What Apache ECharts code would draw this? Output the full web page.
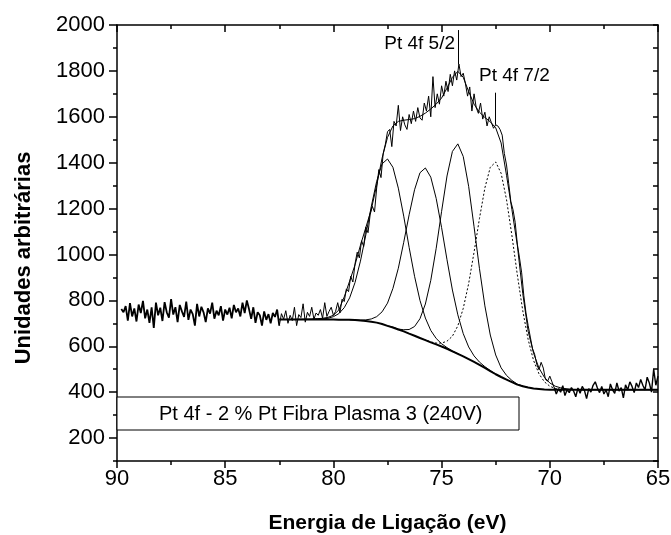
<!DOCTYPE html>
<html>
<head>
<meta charset="utf-8">
<script src="https://cdn.jsdelivr.net/npm/echarts@6/dist/echarts.min.js"></script>
<style>
  html, body { margin: 0; padding: 0; background: #fff; }
  #xpsChart { width: 671px; height: 535px; }
</style>
</head>
<body>
<div id="xpsChart"></div>
<script>
// raw spectrum, 89.8 eV down to 65.0 eV every 0.1 eV
const rawStart = 89.8, rawStep = 0.1;
const rawCounts = [
  762, 748, 775, 712, 788, 730, 765, 708, 782,
  745, 798, 722, 760, 702, 770, 680, 790, 735, 768,
  710, 792, 748, 725, 805, 738, 770, 705, 780, 752,
  728, 795, 715, 760, 740, 690, 785, 730, 772, 748,
  705, 765, 742, 790, 720, 755, 735, 775, 712, 760,
  738, 768, 722, 780, 748, 765, 730, 790, 745, 800,
  762, 720, 770, 702, 748, 735, 690, 752, 715, 740,
  700, 745, 728, 760, 690, 742, 718, 755, 700, 735,
  712, 770, 690, 738, 725, 785, 705, 748, 730, 770,
  718, 745, 735, 760, 722, 790, 730, 752, 770, 735,
  752, 790, 745, 805, 795, 850, 838, 905, 880, 960,
  1010, 985, 1060, 1035, 1120, 1095, 1175, 1210, 1185, 1290,
  1370, 1335, 1440, 1480, 1535, 1545, 1470, 1580, 1560, 1650,
  1540, 1600, 1565, 1545, 1610, 1570, 1625, 1580, 1640, 1595,
  1585, 1660, 1625, 1690, 1600, 1775, 1640, 1700, 1655, 1735,
  1690, 1755, 1710, 1785, 1735, 1800, 1760, 1830, 1775, 1790,
  1745, 1690, 1730, 1625, 1700, 1640, 1615, 1660, 1590, 1620,
  1560, 1600, 1575, 1550, 1565, 1560, 1545, 1520, 1440, 1390,
  1310, 1230, 1195, 1140, 1045, 985, 920, 820, 745, 690,
  640, 590, 565, 520, 498, 530, 505, 455, 448, 470,
  445, 420, 392, 415, 400, 428, 385, 410, 398, 420,
  405, 380, 418, 395, 425, 408, 372, 415, 400, 430,
  445, 418, 398, 425, 392, 410, 380, 436, 410, 395,
  440, 405, 420, 375, 432, 410, 445, 425, 398, 440,
  420, 455, 430, 410, 465, 440, 400, 500, 430, 470
];

// fit curves, 82.5 eV down to 65.0 eV every 0.25 eV
const fitStart = 82.5, fitStep = 0.25;
const background = [
  717, 717, 717, 717, 717, 717, 717, 717, 717, 717, 717,
  716, 716, 715, 714, 712, 710, 707, 703, 697, 689, 682, 673, 665, 655, 646,
  636, 627, 617, 608, 599, 589, 578, 567, 556, 544, 532, 519, 506, 492, 478,
  466, 455, 444, 433, 426, 420, 416, 414, 412, 411, 410,
  410, 410, 410, 410, 410, 410, 410, 410, 410, 410, 410, 410, 410, 410, 410, 410, 410, 410, 410
];
const envelope = [
  717, 717, 717, 717, 718, 718, 719, 720, 722, 726, 735,
  758, 815, 884, 955, 1040, 1118, 1196, 1302, 1420, 1510, 1560, 1580, 1585, 1588, 1592,
  1602, 1616, 1634, 1655, 1682, 1725, 1772, 1798, 1772, 1710, 1655, 1620, 1597, 1578, 1552,
  1486, 1345, 1195, 1040, 830, 665, 570, 505, 465, 440, 426,
  419, 415, 412, 411, 410,
  410, 410, 410, 410, 410, 410, 410, 410, 410, 410, 410, 410, 410, 410
];

// fitted components, each with its own first energy, 0.25 eV steps
const peak1Start = 81.0;
const peak1 = [717, 718, 719, 722, 729, 742, 768, 811, 878, 971, 1086, 1209, 1319, 1395, 1416,
  1380, 1289, 1167, 1031, 905, 800, 723, 669, 634, 611, 594, 580, 568, 556];
const peak2Start = 79.25;
const peak2 = [715, 715, 714, 715, 719, 729, 750, 788, 852, 940, 1053, 1173, 1282, 1356, 1377,
  1337, 1244, 1117, 977, 845, 737, 655, 597, 558, 531, 511, 494, 479, 466];
const peak3Start = 77.5;
const peak3 = [689, 683, 675, 672, 673, 686, 720, 784, 887, 1027, 1188, 1342, 1449, 1482,
  1427, 1297, 1121, 938, 776, 649, 562, 506, 473, 451, 435, 427, 420];
const peak4Start = 76.0;
const peak4 = [636, 628, 619, 614, 614, 622, 644, 689, 765, 873, 1010, 1157, 1290, 1380, 1403,
  1354, 1239, 1082, 911, 755, 629, 538, 480, 445, 426, 416, 412, 411, 410];

const yTickLabels = [200, 400, 600, 800, 1000, 1200, 1400, 1600, 1800, 2000];

const peakLabels = [
  { text: 'Pt 4f 5/2', energy: 74.23, from: 1830, to: 1978 },
  { text: 'Pt 4f 7/2', energy: 72.53, from: 1565, to: 1705 }
];
const sampleName = 'Pt 4f - 2 % Pt Fibra Plasma 3 (240V)';

function toPairs(start, step, values) {
  return values.map((v, i) => [+(start - i * step).toFixed(2), v]);
}

const rawPairs = toPairs(rawStart, rawStep, rawCounts);
const FONT = "'Liberation Sans', Arial, sans-serif";

function line(data, width, extra) {
  return Object.assign({
    type: 'line',
    data: data,
    showSymbol: false,
    symbol: 'none',
    silent: true,
    lineStyle: { color: '#000', width: width }
  }, extra || {});
}

let option = {
  animation: false,
  backgroundColor: '#fff',
  textStyle: { fontFamily: FONT, color: '#000' },
  grid: { left: 117, right: 13, top: 25, bottom: 74, outerBoundsMode: 'none', containLabel: false },
  xAxis: [
    {
      type: 'value',
      position: 'bottom',
      min: 65,
      max: 90,
      interval: 5,
      inverse: true,
      name: 'Energia de Ligação (eV)',
      nameLocation: 'middle',
      nameGap: 52,
      nameTextStyle: { fontSize: 21, fontWeight: 'bold', color: '#000', fontFamily: FONT },
      axisLine: { lineStyle: { color: '#000', width: 1.5 } },
      axisTick: { inside: false, length: 7, lineStyle: { color: '#000', width: 1.5 } },
      minorTick: { show: true, splitNumber: 2, length: 4, lineStyle: { color: '#000', width: 1.5 } },
      axisLabel: { fontSize: 22, color: '#000', margin: 7, fontFamily: FONT },
      splitLine: { show: false }
    },
    {
      type: 'value',
      position: 'top',
      min: 65,
      max: 90,
      interval: 5,
      inverse: true,
      axisLine: { lineStyle: { color: '#000', width: 1.5 } },
      axisTick: { inside: true, length: 7, lineStyle: { color: '#000', width: 1.5 } },
      minorTick: { show: true, splitNumber: 2, length: 4, lineStyle: { color: '#000', width: 1.5 } },
      axisLabel: { show: false },
      splitLine: { show: false }
    }
  ],
  yAxis: [
    {
      type: 'value',
      position: 'left',
      min: 100,
      max: 2000,
      interval: 100,
      axisLine: { show: true, lineStyle: { color: '#000', width: 1.5 } },
      axisTick: { show: true, inside: false, length: 8, customValues: yTickLabels,
        lineStyle: { color: '#000', width: 1.5 } },
      axisLabel: { fontSize: 22, color: '#000', margin: 12, customValues: yTickLabels,
        fontFamily: FONT, formatter: v => String(v) },
      splitLine: { show: false }
    },
    {
      type: 'value',
      position: 'left',
      min: 100,
      max: 2000,
      interval: 100,
      axisLine: { show: false },
      axisTick: { show: true, inside: false, length: 4, lineStyle: { color: '#000', width: 1.5 } },
      axisLabel: { show: false },
      splitLine: { show: false }
    },
    {
      type: 'value',
      position: 'right',
      min: 100,
      max: 2000,
      interval: 100,
      axisLine: { show: true, lineStyle: { color: '#000', width: 1.5 } },
      axisTick: { show: true, inside: true, length: 5, lineStyle: { color: '#000', width: 1.5 } },
      axisLabel: { show: false },
      splitLine: { show: false }
    }
  ],
  series: [
    line(rawPairs.slice(0, 74), 1.8),
    line(rawPairs.slice(73, 201), 1),
    line(rawPairs.slice(200), 1.4),
    line(toPairs(fitStart, fitStep, background), 2),
    line(toPairs(peak1Start, fitStep, peak1), 1),
    line(toPairs(peak2Start, fitStep, peak2), 1),
    line(toPairs(peak3Start, fitStep, peak3), 1),
    line(toPairs(peak4Start, fitStep, peak4), 1, {
      lineStyle: { color: '#000', width: 1, type: [2, 2] }
    }),
    line(toPairs(fitStart, fitStep, envelope), 1, {
      markLine: {
        silent: true,
        symbol: 'none',
        label: { show: false },
        lineStyle: { color: '#000', width: 1, type: 'solid' },
        data: peakLabels.map(p => [{ coord: [p.energy, p.from] }, { coord: [p.energy, p.to] }])
      }
    })
  ],
  graphic: [
    {
      type: 'text',
      x: 24,
      y: 258,
      rotation: Math.PI / 2,
      style: {
        text: 'Unidades arbitrárias',
        font: 'bold 22px ' + FONT,
        fill: '#000',
        align: 'center',
        verticalAlign: 'middle'
      }
    },
    {
      type: 'rect',
      shape: { x: 117, y: 397, width: 402, height: 33 },
      style: { fill: '#fff', stroke: '#000', lineWidth: 1 },
      z: 5
    },
    {
      type: 'text',
      x: 159,
      y: 414,
      z: 6,
      style: { text: sampleName, font: '20px ' + FONT, fill: '#000', verticalAlign: 'middle' }
    },
    {
      type: 'text',
      x: 455,
      y: 44,
      style: { text: peakLabels[0].text, font: '19px ' + FONT, fill: '#000', align: 'right', verticalAlign: 'middle' }
    },
    {
      type: 'text',
      x: 479,
      y: 76,
      style: { text: peakLabels[1].text, font: '19px ' + FONT, fill: '#000', align: 'left', verticalAlign: 'middle' }
    }
  ]
};

var myChart = echarts.init(document.getElementById('xpsChart'));
myChart.setOption(option);
</script>
</body>
</html>
